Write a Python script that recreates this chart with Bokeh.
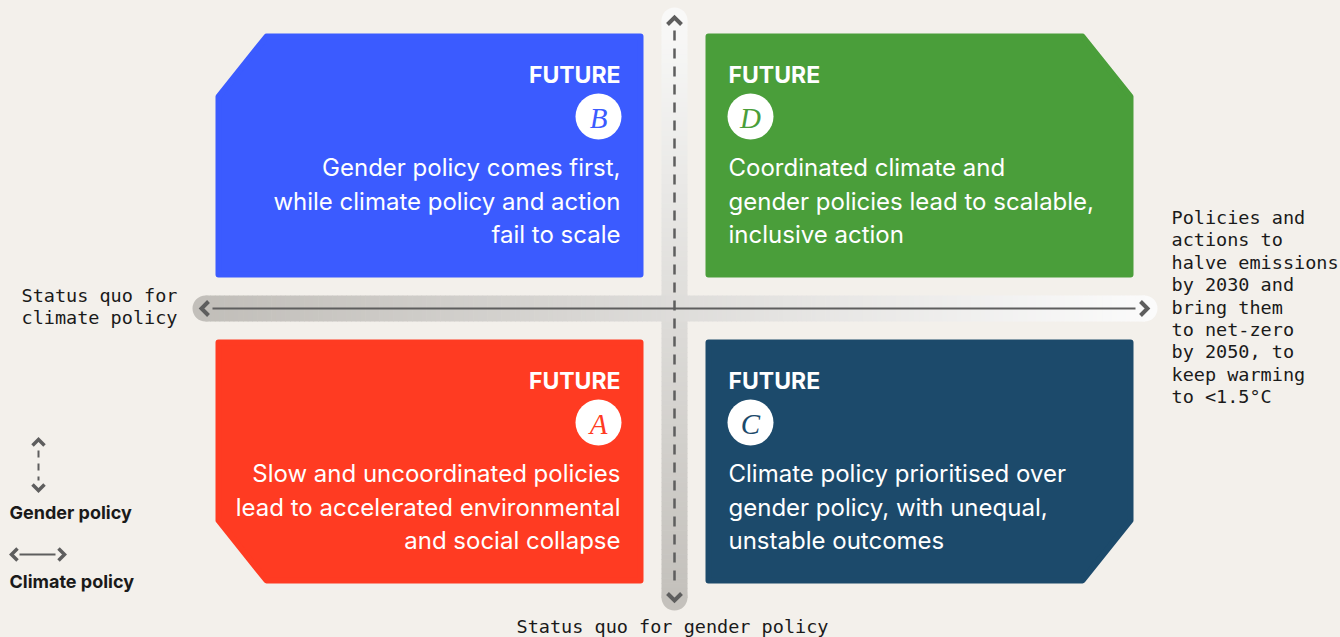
import numpy as np
from bokeh.plotting import figure
from bokeh.models import Range1d
from bokeh.core.properties import value
from bokeh.embed import file_html
from bokeh.resources import INLINE

# ---------------- data ----------------
BG = "#f3f0eb"
quadrant_ids = ["B", "D", "A", "C"]
quadrant_titles = ["FUTURE", "FUTURE", "FUTURE", "FUTURE"]
quadrant_colors = ["#3b5bff", "#4a9e3a", "#ff3b22", "#1c4a6b"]
quadrant_texts = [
    ["Gender policy comes first,", "while climate policy and action", "fail to scale"],
    ["Coordinated climate and", "gender policies lead to scalable,", "inclusive action"],
    ["Slow and uncoordinated policies", "lead to accelerated environmental", "and social collapse"],
    ["Climate policy prioritised over", "gender policy, with unequal,", "unstable outcomes"],
]
left_note = ["Status quo for", "climate policy"]
right_note = ["Policies and", "actions to", "halve emissions", "by 2030 and", "bring them",
              "to net-zero", "by 2050, to", "keep warming", "to <1.5°C"]
bottom_note = ["Status quo for gender policy"]
legend_labels = ["Gender policy", "Climate policy"]

# ---------------- layout ----------------
SANS = "Inter"
MONO = "DejaVu Sans Mono"
SERIF = "Liberation Serif"
INK = "#5e5e5e"
W, H = 1340, 637
DY = -7  # baseline correction for svg text

p = figure(width=W, height=H, output_backend="svg", toolbar_location=None,
           x_range=Range1d(0, W), y_range=Range1d(H, 0),
           x_axis_type=None, y_axis_type=None, min_border=0,
           background_fill_color=BG, border_fill_color=BG, outline_line_color=None)
p.grid.visible = False

cols = [(215, 643), (705, 1133)]
rows = [(33, 277), (339, 583)]
pos = {"B": (0, 0, "tl"), "D": (1, 0, "tr"), "A": (0, 1, "bl"), "C": (1, 1, "br")}
CX, CY, R = 48, 60, 3

def hex2rgb(c):
    return np.array([int(c[i:i + 2], 16) for i in (1, 3, 5)])

def vpill(x0, x1, y0, y1, c_top, c_bot, n=120):
    r = (x1 - x0) / 2
    ct, cb = hex2rgb(c_top), hex2rgb(c_bot)
    p.circle([x0 + r], [y0 + r], radius=r, fill_color=c_top, line_color=None)
    p.circle([x0 + r], [y1 - r], radius=r, fill_color=c_bot, line_color=None)
    edges = np.linspace(y0 + r, y1 - r, n + 1)
    t = (np.arange(n) + 0.5) / n
    cs = ["#%02x%02x%02x" % tuple((ct + (cb - ct) * ti).astype(int)) for ti in t]
    p.quad(left=x0, right=x1, top=edges[:-1], bottom=edges[1:] + 0.6, fill_color=cs, line_color=None)

def hpill(x0, x1, y0, y1, c_left, c_right, n=200):
    r = (y1 - y0) / 2
    cl, cr = hex2rgb(c_left), hex2rgb(c_right)
    p.circle([x0 + r], [y0 + r], radius=r, fill_color=c_left, line_color=None)
    p.circle([x1 - r], [y0 + r], radius=r, fill_color=c_right, line_color=None)
    edges = np.linspace(x0 + r, x1 - r, n + 1)
    t = (np.arange(n) + 0.5) / n
    cs = ["#%02x%02x%02x" % tuple((cl + (cr - cl) * ti).astype(int)) for ti in t]
    p.quad(left=edges[:-1], right=edges[1:] + 0.6, top=y0, bottom=y1, fill_color=cs, line_color=None)

vpill(661, 687, 7, 610, "#f9f9f8", "#c4c1bc")
hpill(192, 1157, 295, 321, "#c2bfba", "#fbfbfb")

# axis lines
p.line([674, 674], [30, 588], line_color=INK, line_width=2.5, line_dash="10 8")
p.line([212, 1135], [308, 308], line_color=INK, line_width=2)
chev_x = [[667, 674, 681], [667, 674, 681], [208, 201, 208], [1140, 1147, 1140]]
chev_y = [[24, 17, 24], [593, 600, 593], [301, 308, 315], [301, 308, 315]]
p.multi_line(chev_x, chev_y, line_color=INK, line_width=4, line_join="miter")

# quadrants
for i, q in enumerate(quadrant_ids):
    ci, ri, corner = pos[q]
    x0, x1 = cols[ci][0] + R, cols[ci][1] - R
    y0, y1 = rows[ri][0] + R, rows[ri][1] - R
    if corner == "tl":
        xs = [x0, x0 + CX, x1, x1, x0]; ys = [y0 + CY, y0, y0, y1, y1]
    elif corner == "tr":
        xs = [x0, x1 - CX, x1, x1, x0]; ys = [y0, y0, y0 + CY, y1, y1]
    elif corner == "bl":
        xs = [x0, x1, x1, x0 + CX, x0]; ys = [y0, y0, y1, y1, y1 - CY]
    else:
        xs = [x0, x1, x1, x1 - CX, x0]; ys = [y0, y0, y1 - CY, y1, y1]
    col = quadrant_colors[i]
    p.patch(xs, ys, fill_color=col, line_color=col, line_width=2 * R, line_join="round")

    top = rows[ri][0]
    if ci == 0:
        tx, align, ccx = cols[ci][1] - 23, "right", cols[ci][1] - 45
    else:
        tx, align, ccx = cols[ci][0] + 23, "left", cols[ci][0] + 45
    p.text([tx], [top + 48 + DY], text=[quadrant_titles[i]], text_color="white",
           text_font=value(SANS), text_font_style="bold", text_font_size="23px",
           text_align=align, text_baseline="alphabetic")
    p.circle([ccx], [top + 83], radius=23, fill_color="white", line_color=None)
    p.text([ccx], [top + 84], text=[q], text_color=col, text_font=value(SERIF),
           text_font_style="italic", text_font_size="29px",
           text_align="center", text_baseline="middle")
    for k, line in enumerate(quadrant_texts[i]):
        p.text([tx], [top + 141 + 33.5 * k + DY], text=[line], text_color="white",
               text_font=value(SANS), text_font_size="24px",
               text_align=align, text_baseline="alphabetic")

# notes
for k, line in enumerate(left_note):
    p.text([21], [302 + 22 * k + DY], text=[line], text_color="#1a1a1a", text_font=value(MONO),
           text_font_size="18.5px", text_baseline="alphabetic")
for k, line in enumerate(right_note):
    p.text([1171], [224 + 22.4 * k + DY], text=[line], text_color="#1a1a1a", text_font=value(MONO),
           text_font_size="18.5px", text_baseline="alphabetic")
p.text([672], [633 + DY], text=bottom_note, text_color="#1a1a1a", text_font=value(MONO),
       text_font_size="18.5px", text_align="center", text_baseline="alphabetic")

# legend
p.multi_line([[32, 38, 44], [32, 38, 44]], [[445, 439, 445], [484, 490, 484]],
             line_color=INK, line_width=3.5, line_join="miter")
p.line([38, 38], [450, 480], line_color=INK, line_width=2, line_dash="7 6")
p.multi_line([[17, 11, 17], [58, 64, 58]], [[548, 554, 560], [548, 554, 560]],
             line_color=INK, line_width=3.5, line_join="miter")
p.line([19, 55], [554, 554], line_color=INK, line_width=2)
p.text([9], [519 + DY], text=[legend_labels[0]], text_color="#1a1a1a", text_font=value(SANS),
       text_font_style="bold", text_font_size="18px", text_baseline="alphabetic")
p.text([9], [588 + DY], text=[legend_labels[1]], text_color="#1a1a1a", text_font=value(SANS),
       text_font_style="bold", text_font_size="18px", text_baseline="alphabetic")

html = file_html(p, INLINE, "Futures")
html = html.replace("</head>", "<style>html,body{background:%s;overflow:hidden;}</style></head>" % BG, 1)
open("out.html", "w").write(html)
